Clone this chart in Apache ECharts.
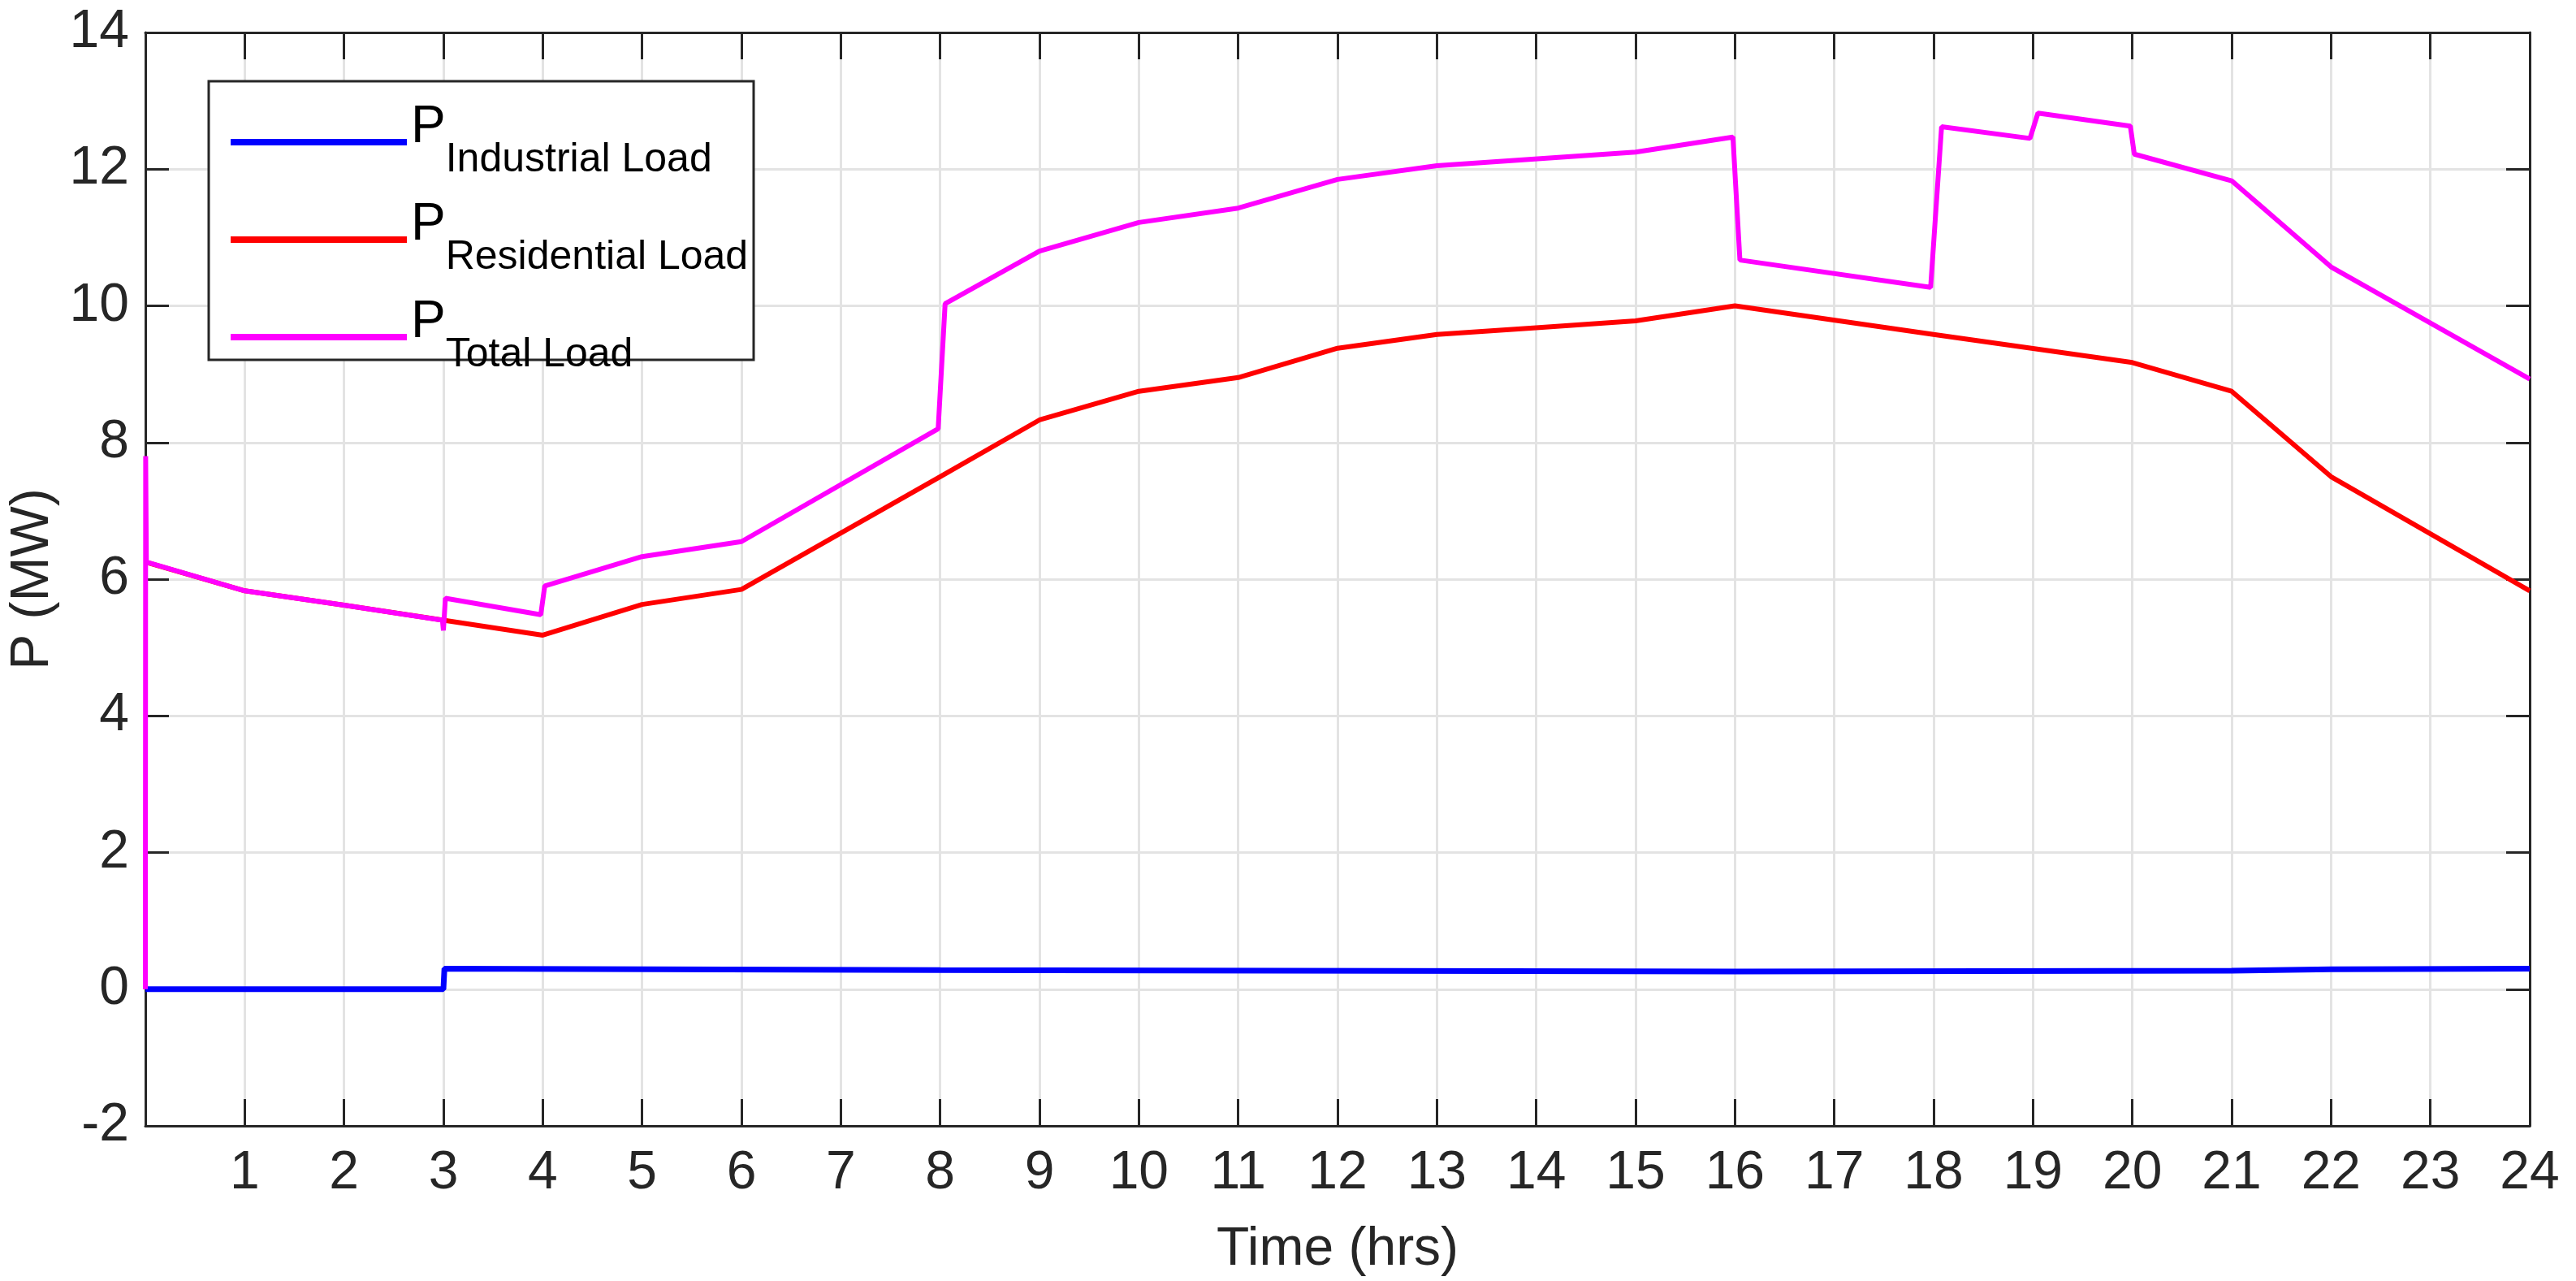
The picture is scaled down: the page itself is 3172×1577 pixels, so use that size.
<!DOCTYPE html>
<html><head><meta charset="utf-8">
<script src="https://cdn.jsdelivr.net/npm/echarts@6/dist/echarts.min.js"></script>
<style>html,body{margin:0;padding:0;background:#fff}#c{width:3172px;height:1577px}</style>
</head><body><div id="c"></div>
<script>
const xTicks = [0,1,2,3,4,5,6,7,8,9,10,11,12,13,14,15,16,17,18,19,20,21,22,23,24];
const industrial = [[0,0],[3,0],[3.01,0.3],[8,0.28],[16,0.26],[21,0.27],[22,0.29],[24,0.3]];
const residential = [[0,6.25],[1,5.83],[2,5.62],[3,5.4],[4,5.18],[5,5.63],[6,5.85],[8,7.5],[9,8.33],[10,8.75],[11,8.95],[12,9.38],[13,9.58],[14,9.68],[15,9.78],[16,10.0],[18,9.58],[20,9.17],[21,8.75],[22,7.5],[24,5.83]];
const total = [[0,0],[0.003,7.8],[0.01,6.25],[1,5.83],[2,5.62],[2.99,5.4],[3,5.25],[3.02,5.72],[3.98,5.48],[4.02,5.9],[5,6.33],[6,6.55],[7.98,8.2],[8.05,10.03],[9,10.8],[10,11.22],[11,11.43],[12,11.85],[13,12.05],[15,12.25],[15.98,12.47],[16.05,10.67],[17.97,10.27],[18.08,12.62],[18.97,12.45],[19.05,12.82],[19.98,12.63],[20.02,12.22],[21,11.83],[22,10.57],[24,8.93]];
const FONT = '"Liberation Sans Narrow","Liberation Sans",Arial,sans-serif';
const chart = echarts.init(document.getElementById('c'));
const axisLine = {show:true, onZero:false, lineStyle:{color:'#262626', width:3}};
const legendRich = {p:{fontSize:64,fontFamily:FONT,color:'#000',lineHeight:64,padding:[0,0,36,0]},
  s:{fontSize:50,fontFamily:FONT,color:'#000',lineHeight:50,padding:[44,0,0,0]}};
chart.setOption({
  animation:false,
  grid:{left:166,right:57,top:40,bottom:181},
  graphic:[{type:'rect',shape:{x:257,y:100,width:671,height:343},style:{fill:'#fff',stroke:'#262626',lineWidth:3},z:90}],
  legend:{orient:'vertical',left:279,top:120,itemWidth:217,itemHeight:8,itemGap:20,z:100,
    icon:'rect',
    textStyle:{rich:legendRich},
    formatter:function(n){const m={'Industrial':'Industrial Load','Residential':'Residential Load','Total':'Total Load'};return '{p|P}{s|'+m[n]+'}';},
    data:['Industrial','Residential','Total']},
  xAxis:[{type:'value',min:0,max:24,interval:1,
    name:'Time (hrs)',nameLocation:'middle',nameGap:120,nameTextStyle:{fontSize:66,fontFamily:FONT,color:'#262626'},
    axisLine:axisLine,axisTick:{show:true,inside:true,length:33,lineStyle:{color:'#262626',width:3}},
    axisLabel:{fontSize:66,fontFamily:FONT,color:'#262626',margin:26,formatter:v=>v===0?'':String(v)},
    splitLine:{show:true,lineStyle:{color:'#e3e3e3',width:3}}},
   {type:'value',position:'top',min:0,max:24,interval:1,axisLine:axisLine,
    axisTick:{show:true,inside:true,length:33,lineStyle:{color:'#262626',width:3}},axisLabel:{show:false},splitLine:{show:false}}],
  yAxis:[{type:'value',min:-2,max:14,interval:2,
    name:'P (MW)',nameLocation:'middle',nameGap:105,nameTextStyle:{fontSize:66,fontFamily:FONT,color:'#262626'},
    axisLine:axisLine,axisTick:{show:true,inside:true,length:29,lineStyle:{color:'#262626',width:3}},
    axisLabel:{fontSize:66,fontFamily:FONT,color:'#262626',margin:20},
    splitLine:{show:true,lineStyle:{color:'#e3e3e3',width:3}}},
   {type:'value',position:'right',min:-2,max:14,interval:2,axisLine:axisLine,
    axisTick:{show:true,inside:true,length:29,lineStyle:{color:'#262626',width:3}},axisLabel:{show:false},splitLine:{show:false}}],
  series:[
    {name:'Industrial',type:'line',data:industrial,showSymbol:false,symbol:'none',lineStyle:{color:'#0000ff',width:7},itemStyle:{color:'#0000ff'},z:3},
    {name:'Residential',type:'line',data:residential,showSymbol:false,symbol:'none',lineStyle:{color:'#ff0000',width:6},itemStyle:{color:'#ff0000'},z:2},
    {name:'Total',type:'line',data:total,showSymbol:false,symbol:'none',lineStyle:{color:'#ff00ff',width:6},itemStyle:{color:'#ff00ff'},z:4}
  ]
});
</script></body></html>
